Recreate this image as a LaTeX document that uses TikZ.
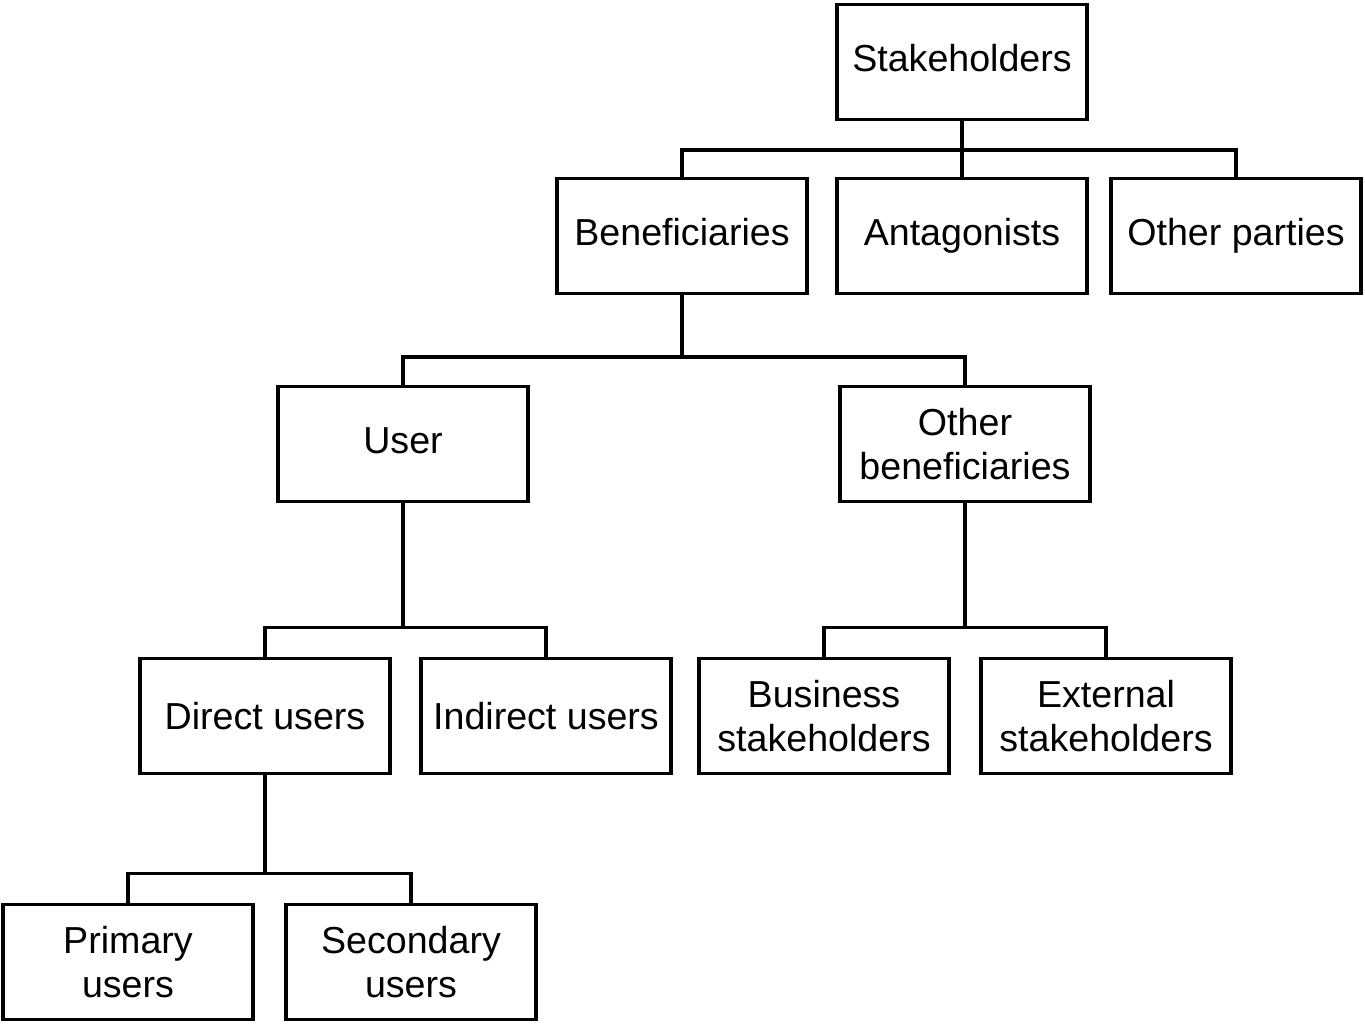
\documentclass[tikz,border=0pt]{standalone}
\usepackage{fontspec}
\setmainfont{Liberation Sans}
\begin{document}
\begin{tikzpicture}[x=0.02cm,y=-0.02cm,
  box/.style={draw=black,line width=2.2pt,minimum width=5.01cm,minimum height=2.3cm,align=center,inner sep=0pt,font=\fontsize{21.4}{25.5}\selectfont},
  link/.style={draw=black,line width=2.2pt,line cap=rect}]
  \useasboundingbox (0,0) rectangle (1365,1025);
  \node[box] (stake) at (962,62) {Stakeholders\vphantom{g}};
  \node[box] (benef) at (682,236) {Beneficiaries\vphantom{g}};
  \node[box] (antag) at (962,236) {Antagonists};
  \node[box] (other) at (1236,236) {Other parties};
  \node[box] (user) at (403,444) {User\vphantom{g}};
  \node[box] (otherben) at (965,444) {Other\\beneficiaries};
  \node[box] (direct) at (265,716) {Direct users};
  \node[box] (indirect) at (546,716) {Indirect users};
  \node[box] (business) at (824,716) {Business\\stakeholders};
  \node[box] (external) at (1106,716) {External\\stakeholders};
  \node[box] (primary) at (128,962) {Primary\\users};
  \node[box] (secondary) at (411,962) {Secondary\\users};
  \draw[link] (stake.south) -- ++(0,29) coordinate (j1);
  \draw[link] (benef.north) |- (j1) -| (other.north);
  \draw[link] (j1) -- (antag.north);
  \draw[link] (benef.south) -- ++(0,62) coordinate (j2);
  \draw[link] (user.north) |- (j2) -| (otherben.north);
  \draw[link] (user.south) -- ++(0,124) coordinate (j3);
  \draw[link] (direct.north) |- (j3) -| (indirect.north);
  \draw[link] (otherben.south) -- ++(0,124) coordinate (j4);
  \draw[link] (business.north) |- (j4) -| (external.north);
  \draw[link] (direct.south) -- ++(0,98) coordinate (j5);
  \draw[link] (primary.north) |- (j5) -| (secondary.north);
\end{tikzpicture}
\end{document}
